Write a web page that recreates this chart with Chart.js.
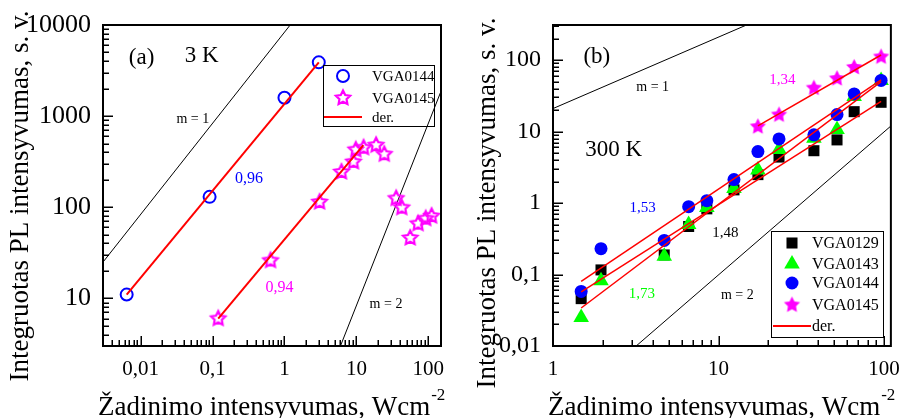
<!DOCTYPE html>
<html>
<head>
<meta charset="utf-8">
<script src="https://cdn.jsdelivr.net/npm/chart.js@4/dist/chart.umd.min.js"></script>
<style>
  html, body { margin: 0; padding: 0; background: #fff; }
  #wrap { position: relative; width: 903px; height: 418px; }
  #chartA { position: absolute; left: 0; top: 0; }
  #chartB { position: absolute; left: 450px; top: 0; }
</style>
</head>
<body>
<div id="wrap">
  <canvas id="chartA" width="450" height="418"></canvas>
  <canvas id="chartB" width="453" height="418"></canvas>
</div>
<script>
const SERIF = '"Liberation Serif", "Times New Roman", serif';

// ---- panel (a), 3 K ----
const aTicksX = [0.01, 0.1, 1, 10, 100];
const aTicksY = [10, 100, 1000, 10000];
const a144X = [0.0064, 0.091, 1.0, 3.0];
const a144Y = [11, 130, 1590, 3890];
const a145X = [0.12, 0.64, 3.08, 6.2, 9.1, 9.8, 12.6, 18.8, 24.4, 35.7, 42.7, 56, 72, 92, 111];
const a145Y = [6, 26, 114, 244, 315, 428, 450, 480, 382, 125, 99, 46, 66, 75, 80];
const aFit144X = [0.0064, 3.0], aFit144Y = [11, 3890];
const aFit145X = [0.12, 12.5], aFit145Y = [6, 480];
const aM1X = [0.003, 1.5], aM1Y = [25, 12500];
const aM2X = [6, 150], aM2Y = [3, 1875];

// ---- panel (b), 300 K ----
const bTicksX = [1, 10, 100];
const bTicksY = [0.01, 0.1, 1, 10, 100];
const bX = [1.48, 1.95, 4.7, 6.6, 8.5, 12.4, 17.3, 23.2, 37.7, 52, 66, 96];
const b129Y = [0.046, 0.116, 0.188, 0.47, 0.83, 1.53, 2.5, 4.4, 5.4, 7.65, 19, 25.7];
const b143Y = [0.025, 0.082, 0.18, 0.5, 0.87, 1.6, 2.9, 5.6, 8.1, 10.7, 31, 52];
const b144Y = [0.058, 0.23, 0.30, 0.89, 1.08, 2.13, 5.25, 7.9, 9.0, 17.3, 33.7, 52];
const b145X = [17.3, 23.2, 37.7, 52, 66, 96];
const b145Y = [11.7, 17.1, 40.6, 55, 79, 111];
const bFit129X = [1.48, 96], bFit129Y = [0.057, 26.5];
const bFit143X = [1.48, 96], bFit143Y = [0.034, 50];
const bFit144X = [1.48, 96], bFit144Y = [0.08, 53];
const bFit145X = [17.3, 96], bFit145Y = [12, 118];
const bM1X = [1, 20], bM1Y = [21, 420];
const bM2X = [3.18, 110], bM2Y = [0.01, 11.97];

const pts = (xs, ys) => xs.map((x, i) => ({x: x, y: ys[i]}));
const fmt = v => (v >= 1 ? String(Math.round(v)) : String(v).replace('.', ','));

// five-point star marker as a small canvas (Chart.js 'star' is an asterisk)
function starImg(R, color, filled) {
    const lw = filled ? 0 : 2.2;
    const s = Math.ceil(2 * R + 2 * lw + 2);
    const c = document.createElement('canvas');
    c.width = s; c.height = s;
    const g = c.getContext('2d');
    g.beginPath();
    for (let i = 0; i < 10; i++) {
        const r = i % 2 ? R * 0.5 : R;
        const t = -Math.PI / 2 + i * Math.PI / 5;
        g.lineTo(s / 2 + r * Math.cos(t), s / 2 + r * Math.sin(t));
    }
    g.closePath();
    if (filled) { g.fillStyle = color; g.fill(); }
    else { g.strokeStyle = color; g.lineWidth = lw; g.lineJoin = 'miter'; g.stroke(); }
    return c;
}

function logSteps(min, max) {
    const out = [];
    for (let e = Math.floor(Math.log10(min)); e <= Math.ceil(Math.log10(max)); e++) {
        for (let k = 1; k <= 9; k++) {
            const v = k * Math.pow(10, e);
            if (v >= min * (1 - 1e-9) && v <= max * (1 + 1e-9)) out.push({v: v, major: k === 1});
        }
    }
    return out;
}

function decor(cfg) {
    return {
        id: 'decor',
        afterDatasetsDraw(chart) {
            const ctx = chart.ctx, a = chart.chartArea;
            const sx = chart.scales.x, sy = chart.scales.y;
            ctx.save();
            ctx.strokeStyle = '#000';
            ctx.lineWidth = 1.5;
            logSteps(sx.min, sx.max).forEach(t => {
                const p = Math.round(sx.getPixelForValue(t.v)) + 0.25;
                ctx.beginPath(); ctx.moveTo(p, a.bottom); ctx.lineTo(p, a.bottom - (t.major ? 10 : 6)); ctx.stroke();
            });
            logSteps(sy.min, sy.max).forEach(t => {
                const p = Math.round(sy.getPixelForValue(t.v)) + 0.25;
                ctx.beginPath(); ctx.moveTo(a.left, p); ctx.lineTo(a.left + (t.major ? 10 : 6), p); ctx.stroke();
            });
            ctx.lineWidth = 2;
            ctx.strokeRect(a.left, a.top, a.right - a.left, a.bottom - a.top);

            // text notes placed in data coordinates
            ctx.textAlign = 'center';
            ctx.textBaseline = 'middle';
            cfg.notes.forEach(n => {
                ctx.font = n.size + 'px ' + SERIF;
                ctx.fillStyle = n.color;
                ctx.fillText(n.text, sx.getPixelForValue(n.x), sy.getPixelForValue(n.y));
            });

            // legend box
            const L = cfg.legend;
            ctx.lineWidth = 1;
            ctx.strokeStyle = '#000';
            ctx.strokeRect(L.x + 0.5, L.y + 0.5, L.w, L.h);
            ctx.font = L.size + 'px ' + SERIF;
            ctx.textAlign = 'left';
            L.rows.forEach(r => {
                const ds = chart.data.datasets[r.ds];
                if (ds.showLine) {
                    ctx.strokeStyle = ds.borderColor;
                    ctx.lineWidth = 2;
                    ctx.beginPath(); ctx.moveTo(L.lx0, r.y); ctx.lineTo(L.lx1, r.y); ctx.stroke();
                } else {
                    ctx.fillStyle = ds.pointBackgroundColor;
                    ctx.strokeStyle = ds.pointBorderColor;
                    ctx.lineWidth = ds.pointBorderWidth;
                    Chart.helpers.drawPoint(ctx, {
                        pointStyle: ds.pointStyle, radius: ds.pointRadius,
                        borderWidth: ds.pointBorderWidth, rotation: 0
                    }, L.mx, r.y);
                }
                ctx.fillStyle = '#000';
                ctx.fillText(ds.label, L.tx, r.y + 1);
            });

            // axis titles
            ctx.fillStyle = '#000';
            ctx.font = '27px ' + SERIF;
            ctx.textBaseline = 'alphabetic';
            ctx.textAlign = 'left';
            const main = 'Žadinimo intensyvumas, Wcm';
            const x0 = a.left + cfg.xTitleShift;
            ctx.fillText(main, x0, 415);
            const w = ctx.measureText(main).width;
            ctx.font = '17px ' + SERIF;
            ctx.fillText('-2', x0 + w + 1, 400);

            ctx.font = '27px ' + SERIF;
            ctx.textAlign = 'center';
            ctx.translate(cfg.yTitleX, cfg.yTitleY);
            ctx.rotate(-Math.PI / 2);
            ctx.fillText('Integruotas PL intensyvumas, s. v.', 0, 0);
            ctx.restore();
        }
    };
}

function scatterSet(label, data, style, color, radius, filled) {
    return {
        label: label, data: data, showLine: false,
        pointStyle: style, pointRadius: radius,
        pointBackgroundColor: filled ? color : 'rgba(0,0,0,0)',
        pointBorderColor: color, pointBorderWidth: filled ? 0 : 2
    };
}
function lineSet(label, data, color, width) {
    return {
        label: label, data: data, showLine: true, fill: false,
        borderColor: color, borderWidth: width, pointRadius: 0
    };
}

function axes(xr, yr, xt, yt, ySize) {
    return {
        x: {
            type: 'logarithmic', position: 'bottom', min: xr[0], max: xr[1],
            afterBuildTicks: s => { s.ticks = xt.map(v => ({value: v})); },
            afterFit: s => { s.height = 72; },
            grid: {display: false}, border: {display: false},
            ticks: {font: {family: SERIF, size: 21}, color: '#000', padding: 3,
                    maxRotation: 0, autoSkip: false, callback: v => fmt(v)}
        },
        y: {
            type: 'logarithmic', position: 'left', min: yr[0], max: yr[1],
            afterBuildTicks: s => { s.ticks = yt.map(v => ({value: v})); },
            afterFit: s => { s.width = 103; },
            grid: {display: false}, border: {display: false},
            ticks: {font: {family: SERIF, size: ySize}, color: '#000', padding: 4,
                    autoSkip: false, callback: v => fmt(v)}
        }
    };
}

const baseOpts = (scales, rightPad) => ({
    responsive: false, animation: false, events: [],
    layout: {padding: {top: 25, right: rightPad, left: 0, bottom: 0}},
    plugins: {legend: {display: false}, tooltip: {enabled: false}},
    scales: scales
});

// ---- chart (a) ----
const starOpenA = starImg(7.5, '#ff00ff', false);
const dsA = [
    lineSet('der.', pts(aFit144X, aFit144Y), '#ff0000', 2),
    lineSet('der.', pts(aFit145X, aFit145Y), '#ff0000', 2),
    scatterSet('VGA0144', pts(a144X, a144Y), 'circle', '#0000ff', 6, false),
    scatterSet('VGA0145', pts(a145X, a145Y), starOpenA, '#ff00ff', 7, false),
    lineSet('m = 1', pts(aM1X, aM1Y), '#000', 1),
    lineSet('m = 2', pts(aM2X, aM2Y), '#000', 1)
];
new Chart(document.getElementById('chartA'), {
    type: 'scatter',
    data: {datasets: dsA},
    options: baseOpts(axes([0.003, 150], [3, 10000], aTicksX, aTicksY, 26), 7),
    plugins: [decor({
        xTitleShift: -5, yTitleX: 28, yTitleY: 196,
        notes: [
            {text: '(a)', x: 0.0103, y: 4400, size: 23, color: '#000'},
            {text: '3 K', x: 0.0707, y: 4600, size: 23, color: '#000'},
            {text: 'm = 1', x: 0.0532, y: 927, size: 14, color: '#000'},
            {text: '0,96', x: 0.321, y: 203, size: 16, color: '#0000ff'},
            {text: '0,94', x: 0.855, y: 13.2, size: 16, color: '#ff00ff'},
            {text: 'm = 2', x: 25.8, y: 8.6, size: 14, color: '#000'}
        ],
        legend: {x: 323, y: 65, w: 111, h: 61, size: 15, mx: 343, tx: 372, lx0: 324, lx1: 362,
                 rows: [{ds: 2, y: 76}, {ds: 3, y: 98}, {ds: 0, y: 117}]}
    })]
});

// ---- chart (b) ----
const starFullB = starImg(8.5, '#ff00ff', true);
const dsB = [
    lineSet('der.', pts(bFit145X, bFit145Y), '#ff0000', 1.5),
    lineSet('der.', pts(bFit144X, bFit144Y), '#ff0000', 1.5),
    lineSet('der.', pts(bFit143X, bFit143Y), '#ff0000', 1.5),
    lineSet('der.', pts(bFit129X, bFit129Y), '#ff0000', 1.5),
    scatterSet('VGA0145', pts(b145X, b145Y), starFullB, '#ff00ff', 7, true),
    scatterSet('VGA0144', pts(bX, b144Y), 'circle', '#0000ff', 6.5, true),
    scatterSet('VGA0143', pts(bX, b143Y), 'triangle', '#00ff00', 9, true),
    scatterSet('VGA0129', pts(bX, b129Y), 'rect', '#000000', 7.8, true),
    lineSet('m = 1', pts(bM1X, bM1Y), '#000', 1),
    lineSet('m = 2', pts(bM2X, bM2Y), '#000', 1)
];
new Chart(document.getElementById('chartB'), {
    type: 'scatter',
    data: {datasets: dsB},
    options: baseOpts(axes([1, 110], [0.01, 310], bTicksX, bTicksY, 24), 11),
    plugins: [decor({
        xTitleShift: -5, yTitleX: 45, yTitleY: 203,
        notes: [
            {text: '(b)', x: 1.84, y: 110, size: 23, color: '#000'},
            {text: 'm = 1', x: 4.0, y: 41.9, size: 14, color: '#000'},
            {text: '300 K', x: 2.33, y: 5.5, size: 23, color: '#000'},
            {text: '1,34', x: 24.3, y: 52.5, size: 15, color: '#ff00ff'},
            {text: '1,53', x: 3.48, y: 0.851, size: 15, color: '#0000ff'},
            {text: '1,48', x: 11.0, y: 0.38, size: 15, color: '#000'},
            {text: '1,73', x: 3.44, y: 0.0533, size: 15, color: '#00ff00'},
            {text: 'm = 2', x: 13.0, y: 0.0516, size: 14, color: '#000'}
        ],
        legend: {x: 321, y: 231, w: 112, h: 106, size: 16, mx: 342, tx: 362, lx0: 323, lx1: 361,
                 rows: [{ds: 7, y: 243}, {ds: 6, y: 264}, {ds: 5, y: 283}, {ds: 4, y: 305}, {ds: 0, y: 326}]}
    })]
});
</script>
</body>
</html>
